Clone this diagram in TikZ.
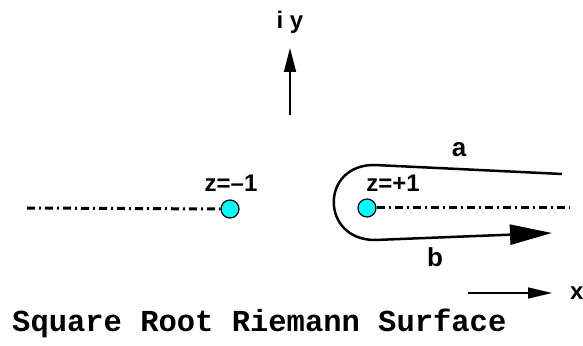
\documentclass[tikz,border=0pt]{standalone}
\usepackage{fontspec}
\setsansfont{Liberation Sans}
\setmonofont{Liberation Mono}
\usepackage{tikz}
\usetikzlibrary{arrows.meta, positioning}
\definecolor{branchcyan}{HTML}{00FFFF}

\begin{document}
\begin{tikzpicture}[x=1pt, y=1pt, >=Stealth,
    lbl/.style={font=\sffamily\bfseries\fontsize{24}{28}\selectfont, inner sep=0pt},
    branchpt/.style={circle, draw, line width=1.2pt, fill=branchcyan, minimum size=18pt, inner sep=0pt},
    cut/.style={line width=3pt, dash pattern=on 8pt off 4pt on 2pt off 4pt}]
    \useasboundingbox (0, 0) rectangle (583, 345);

    % Axes
    \coordinate (ybot) at (290, 230);
    \coordinate (ytop) at (290, 297);
    \draw[line width=1.5pt, -{Triangle[length=24pt, width=12pt]}] (ybot) -- (ytop);
    \node[lbl, anchor=base] (ylab) at (290, 316) {i y};
    \coordinate (xleft) at (468, 52);
    \coordinate (xright) at (552, 52);
    \draw[line width=1.5pt, -{Triangle[length=24pt, width=11pt]}] (xleft) -- (xright);
    \node[lbl, anchor=base west] (xlab) at (570, 45) {x};

    % Branch points and cuts
    \node[branchpt] (zl) at (230, 136) {};
    \node[branchpt] (zr) at (367, 137) {};
    \node[lbl, anchor=base] (zllab) at (231, 153) {z=--1};
    \node[lbl, anchor=base] (zrlab) at (393, 153) {z=+1};
    \coordinate (cutl) at (27, 137);
    \coordinate (cutr) at (569, 137);
    \draw[cut] (cutl) -- (zl.west);
    \draw[cut] (zr.east) -- (cutr);

    % Path round z=+1
    \coordinate (astart) at (562, 171);
    \coordinate (bend) at (552, 112);
    \draw[line width=2.5pt, -{Triangle[length=42pt, width=20pt]}]
        (astart) -- (375, 180) .. controls (320, 181) and (320, 105) .. (375, 105) -- (bend);
    \node[lbl, font=\sffamily\bfseries\fontsize{26}{30}\selectfont] (alab) at (459, 195) {a};
    \node[lbl, font=\sffamily\bfseries\fontsize{26}{30}\selectfont] (blab) at (435, 88) {b};

    % Title
    \node[anchor=base west, inner sep=0pt, font=\ttfamily\bfseries\fontsize{30.5}{33}\selectfont] (title) at (12, 13) {Square Root Riemann Surface};
\end{tikzpicture}
\end{document}
